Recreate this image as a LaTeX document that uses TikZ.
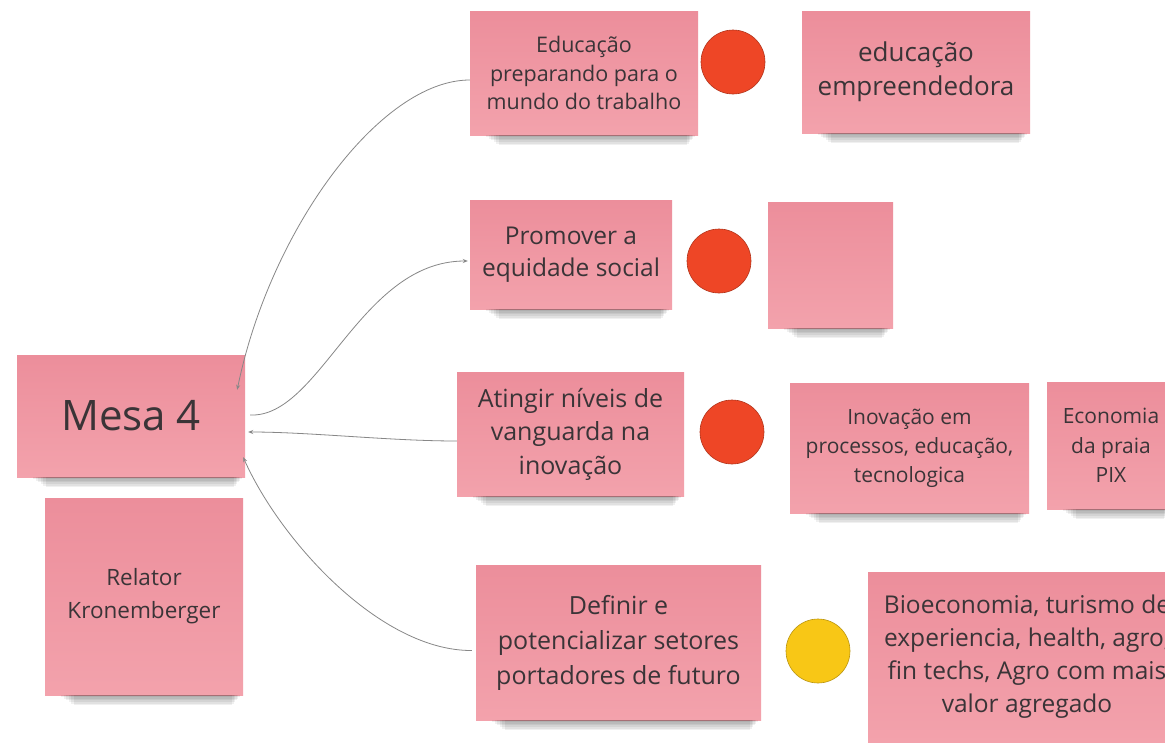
\documentclass[tikz,border=0pt]{standalone}
\usepackage{fontspec}
\setmainfont{Open Sans}
\usetikzlibrary{calc,arrows.meta}
\definecolor{pinktop}{RGB}{236,142,155}
\definecolor{pinkbot}{RGB}{243,162,172}
\definecolor{txt}{RGB}{58,52,55}
\definecolor{dotred}{RGB}{238,70,38}
\definecolor{dotyellow}{RGB}{248,199,22}
\definecolor{wire}{RGB}{135,135,135}
\begin{document}
\begin{tikzpicture}[x=1pt,y=-1pt,
  sticky/.style={rectangle, inner sep=0pt, top color=pinktop, bottom color=pinkbot, text=txt, align=center},
  dot/.style={circle, minimum size=64pt, inner sep=0pt, draw=#1!75!black, line width=0.6pt, fill=#1},
  wirearrow/.style={draw=wire, line width=0.8pt, -{Stealth[length=5pt,width=4pt]}},
  fs/.style 2 args={font=\fontsize{#1}{#2}\selectfont},
]
\useasboundingbox (0,0) rectangle (1165,742);
\fill[white] (0,0) rectangle (1165,742);

% sticky notes
\node[sticky, minimum width=228pt, minimum height=122pt, fs={42}{50}] (mesa) at (131,416) {Mesa 4};
\node[sticky, minimum width=198pt, minimum height=197pt, fs={22.5}{33}] (relator) at (144,596.5) {Relator\\Kronemberger};
\node[sticky, minimum width=228pt, minimum height=124pt, fs={21.5}{28.5}] (edu) at (584,73) {Educação\\preparando para o\\mundo do trabalho};
\node[sticky, minimum width=228pt, minimum height=122pt, fs={26}{34}] (empr) at (916,72) {educação\\empreendedora};
\node[sticky, minimum width=202pt, minimum height=109pt, fs={24.5}{32}] (prom) at (571,254.5) {Promover a\\equidade social};
\node[sticky, minimum width=125pt, minimum height=126pt] (empty) at (830.5,265) {};
\node[sticky, minimum width=227pt, minimum height=124pt, fs={25}{33.5}] (ating) at (570.5,434) {Atingir níveis de\\vanguarda na\\inovação};
\node[sticky, minimum width=239pt, minimum height=130pt, fs={21}{29}] (inov) at (909.5,448) {Inovação em\\processos, educação,\\tecnologica};
\node[sticky, minimum width=128pt, minimum height=127pt, fs={21}{29.5}] (econ) at (1111,445.5) {Economia\\da praia\\PIX};
\node[sticky, minimum width=285pt, minimum height=155pt, fs={25}{35}] (def) at (618.5,642.5) {Definir e\\potencializar setores\\portadores de futuro};
\node[sticky, minimum width=318pt, minimum height=170pt, fs={24.5}{33}] (bio) at (1027,657) {Bioeconomia, turismo de\\experiencia, health, agro,\\fin techs, Agro com mais\\valor agregado};

% shadows under the notes
\foreach \n in {mesa,relator,edu,empr,prom,empty,ating,inov,econ,def}{
  \foreach \k in {1,...,6}{
    \fill[black,opacity=0.06] ($(\n.south west)+(14+2.5*\k,0)$) rectangle ($(\n.south east)+(-2-1.5*\k,1.7*\k)$);
  }
}

% dots
\node[dot=dotred] (d1) at (733,62) {};
\node[dot=dotred] (d2) at (719,261) {};
\node[dot=dotred] (d3) at (732,432) {};
\node[dot=dotyellow] (d4) at (818,651) {};

% connectors
\draw[wirearrow] ($(edu.west)+(0,7)$) .. controls (380,80) and (270,230) .. ($(mesa.north east)+(-8,35)$);
\draw[wirearrow] ($(mesa.east)+(5,-1)$) .. controls (320,418) and (360,261) .. ($(prom.west)+(-2,6.5)$);
\draw[wirearrow] ($(ating.west)+(0,7)$) .. controls (390,441) and (310,432) .. ($(mesa.east)+(3,16)$);
\draw[wirearrow] ($(def.west)+(-4,8)$) .. controls (380,651) and (280,540) .. ($(mesa.south east)+(-2,-20)$);
\end{tikzpicture}
\end{document}
